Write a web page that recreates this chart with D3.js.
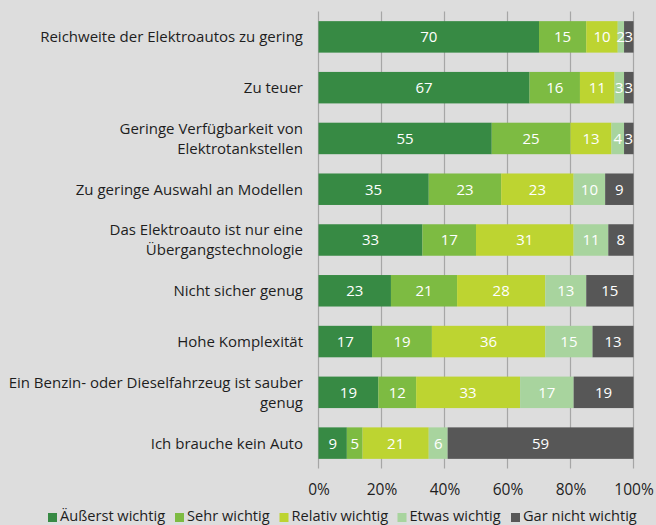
<!DOCTYPE html>
<html><head><meta charset="utf-8">
<script src="https://cdn.jsdelivr.net/npm/d3@7"></script>
<style>
html,body{margin:0;padding:0;background:#dddddd;}
svg{display:block;}
text{font-family:"Open Sans",sans-serif;}
</style></head>
<body><svg id="c" width="656" height="525"></svg>
<script>
const categories = [
  "Reichweite der Elektroautos zu gering",
  "Zu teuer",
  "Geringe Verfügbarkeit von|Elektrotankstellen",
  "Zu geringe Auswahl an Modellen",
  "Das Elektroauto ist nur eine|Übergangstechnologie",
  "Nicht sicher genug",
  "Hohe Komplexität",
  "Ein Benzin- oder Dieselfahrzeug ist sauber|genug",
  "Ich brauche kein Auto"
];
const seriesNames = ["Äußerst wichtig","Sehr wichtig","Relativ wichtig","Etwas wichtig","Gar nicht wichtig"];
const aeusserst = [70,67,55,35,33,23,17,19,9];
const sehr      = [15,16,25,23,17,21,19,12,5];
const relativ   = [10,11,13,23,31,28,36,33,21];
const etwas     = [2,3,4,10,11,13,15,17,6];
const garNicht  = [3,3,3,9,8,15,13,19,59];
const tickValues = [0,20,40,60,80,100];
const colors = ["#378a44","#7dbb42","#bdd431","#a8d49e","#575757"];

const series = [aeusserst, sehr, relativ, etwas, garNicht];
const svg = d3.select("#c");
const x = d3.scaleLinear().domain([0,100]).range([318.5,633.5]);
const y = d3.scaleBand().domain(categories).range([11.5,468.5]).paddingInner(0.38).paddingOuter(0.19);

// grid
svg.append("g").selectAll("line").data(tickValues).join("line")
  .attr("x1",d=>x(d)).attr("x2",d=>x(d))
  .attr("y1",11.5).attr("y2",468.5)
  .attr("stroke","#a6a6a6").attr("stroke-width",1.2);

// bars
const rows = categories.map((c,i)=>{
  let acc=0;
  return series.map((s,k)=>{const o={cat:c,k:k,v:s[i],x0:acc,x1:acc+s[i]};acc+=s[i];return o;});
});
const segs = rows.flat();
const g = svg.append("g");
g.selectAll("rect").data(segs).join("rect")
  .attr("x",d=>x(d.x0)).attr("width",d=>x(d.x1)-x(d.x0))
  .attr("y",d=>y(d.cat)).attr("height",y.bandwidth())
  .attr("fill",d=>colors[d.k]);
g.selectAll("text").data(segs).join("text")
  .attr("x",d=>(x(d.x0)+x(d.x1))/2)
  .attr("y",d=>y(d.cat)+y.bandwidth()/2)
  .attr("dy","0.36em")
  .attr("text-anchor","middle")
  .attr("fill","#ffffff")
  .attr("font-size","15px")
  .text(d=>d.v);

// category labels
const lab = svg.append("g");
categories.forEach(c=>{
  const lines = c.split("|");
  const cy = y(c)+y.bandwidth()/2;
  const t = lab.append("text").attr("text-anchor","end").attr("font-size","15px").attr("fill","#1e1e1e");
  lines.forEach((ln,j)=>{
    t.append("tspan").attr("x",303).attr("y",cy + (j-(lines.length-1)/2)*20).attr("dy","0.36em").text(ln);
  });
});

// x axis
const xAxis = d3.axisBottom(x).tickValues(tickValues).tickFormat(d=>d+"%").tickSize(0).tickPadding(0);
const ax = svg.append("g").attr("transform","translate(0,484)").call(xAxis);
ax.select(".domain").remove();
ax.selectAll("text").attr("font-size","15.5px").attr("fill","#1e1e1e").attr("font-family","'Open Sans',sans-serif");

// legend
const legX = [48,175,279.5,397.5,511];
const leg = svg.append("g");
seriesNames.forEach((n,k)=>{
  leg.append("rect").attr("x",legX[k]).attr("y",513).attr("width",9).attr("height",9).attr("fill",colors[k]);
  leg.append("text").attr("x",legX[k]+12).attr("y",521).attr("font-size","14.6px").attr("fill","#1e1e1e").text(n);
});
</script></body></html>
